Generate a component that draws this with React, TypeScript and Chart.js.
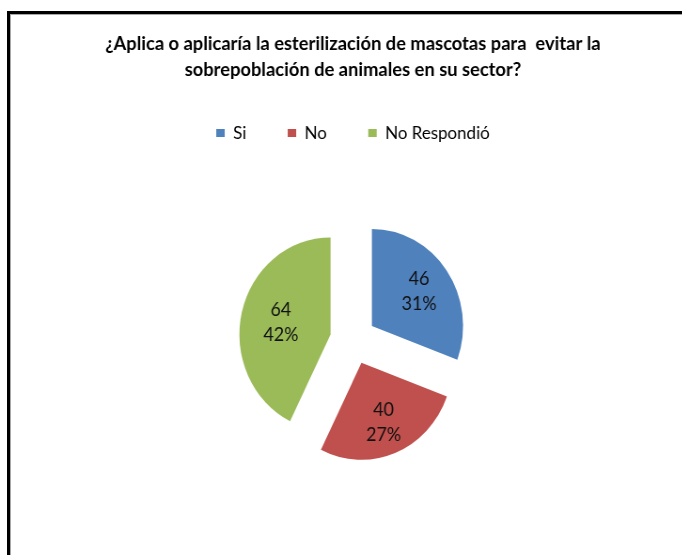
import React, { useEffect, useRef } from "react";
import { Chart, registerables } from "chart.js";

Chart.register(...registerables);

// ---- data ----
const categories = ["Si", "No", "No Respondió"];
const values = [46, 40, 64];
const percentLabels = ["31%", "27%", "42%"];
const titleLines = [
  "¿Aplica o aplicaría la esterilización de mascotas para  evitar la",
  "sobrepoblación de animales en su sector?",
];
const sliceColors = ["#4F81BD", "#C0504D", "#9BBB59"];

// ---- style constants ----
const SX = 0.94; // horizontal squeeze of the original picture
const CANVAS_W = 726;
const CANVAS_H = 555;
const EXPLODE = 24.5;
const LABEL_FACTORS = [0.63, 0.66, 0.56];
const FONT = "Lato, 'Open Sans', sans-serif";

const explodePlugin = {
  id: "explodeSlices",
  beforeDatasetDraw(chart: any, args: any) {
    const ctx = chart.ctx;
    args.meta.data.forEach((arc: any) => {
      const mid = (arc.startAngle + arc.endAngle) / 2;
      ctx.save();
      ctx.translate(Math.cos(mid) * EXPLODE, Math.sin(mid) * EXPLODE);
      arc.draw(ctx, chart.chartArea);
      ctx.restore();
    });
    return false;
  },
};

const labelPlugin = {
  id: "sliceLabels",
  afterDatasetsDraw(chart: any) {
    const ctx = chart.ctx;
    const meta = chart.getDatasetMeta(0);
    const data = chart.data.datasets[0].data;
    ctx.save();
    ctx.font = `19px ${FONT}`;
    ctx.fillStyle = "#111";
    ctx.textAlign = "center";
    ctx.textBaseline = "middle";
    meta.data.forEach((arc: any, i: number) => {
      const mid = (arc.startAngle + arc.endAngle) / 2;
      const d = EXPLODE + LABEL_FACTORS[i] * arc.outerRadius;
      const x = arc.x + Math.cos(mid) * d;
      const y = arc.y + Math.sin(mid) * d;
      ctx.fillText(String(data[i]), x, y - 12.5);
      ctx.fillText(percentLabels[i], x, y + 12.5);
    });
    ctx.restore();
  },
};

export default function App() {
  const canvasRef = useRef<HTMLCanvasElement | null>(null);

  useEffect(() => {
    if (!canvasRef.current) return;
    const chart = new Chart(canvasRef.current, {
      type: "pie",
      data: {
        labels: categories,
        datasets: [
          {
            data: values,
            backgroundColor: sliceColors,
            borderWidth: 0,
          },
        ],
      },
      options: {
        responsive: false,
        animation: false,
        radius: 97,
        layout: { padding: { left: 25, right: 0, top: 0, bottom: 25 } },
        plugins: {
          title: {
            display: true,
            text: titleLines,
            color: "#000",
            font: { family: FONT, size: 19.5, weight: "bold", lineHeight: 26 / 19.5 },
            padding: { top: 31, bottom: -3 },
          },
          legend: {
            display: true,
            position: "top",
            maxHeight: 70,
            labels: {
              color: "#000",
              boxWidth: 9,
              boxHeight: 8,
              padding: 44,
              font: { family: FONT, size: 18 },
            },
          },
          tooltip: { enabled: false },
        },
      } as any,
      plugins: [explodePlugin, labelPlugin],
    });
    return () => chart.destroy();
  }, []);

  return (
    <div
      style={{
        position: "absolute",
        left: 0,
        top: 0,
        width: 682,
        height: 555,
        overflow: "hidden",
        background: "#fff",
      }}
    >
      <canvas
        ref={canvasRef}
        width={CANVAS_W}
        height={CANVAS_H}
        style={{
          display: "block",
          width: CANVAS_W,
          height: CANVAS_H,
          transform: `scaleX(${SX})`,
          transformOrigin: "0 0",
        }}
      />
      <div
        style={{
          position: "absolute",
          left: 7,
          top: 11,
          right: 0,
          bottom: 0,
          boxSizing: "border-box",
          borderLeft: "3px solid #000",
          borderTop: "3px solid #000",
          boxShadow: "inset 1px 1px 0 #a8a8a8",
          pointerEvents: "none",
        }}
      />
    </div>
  );
}
